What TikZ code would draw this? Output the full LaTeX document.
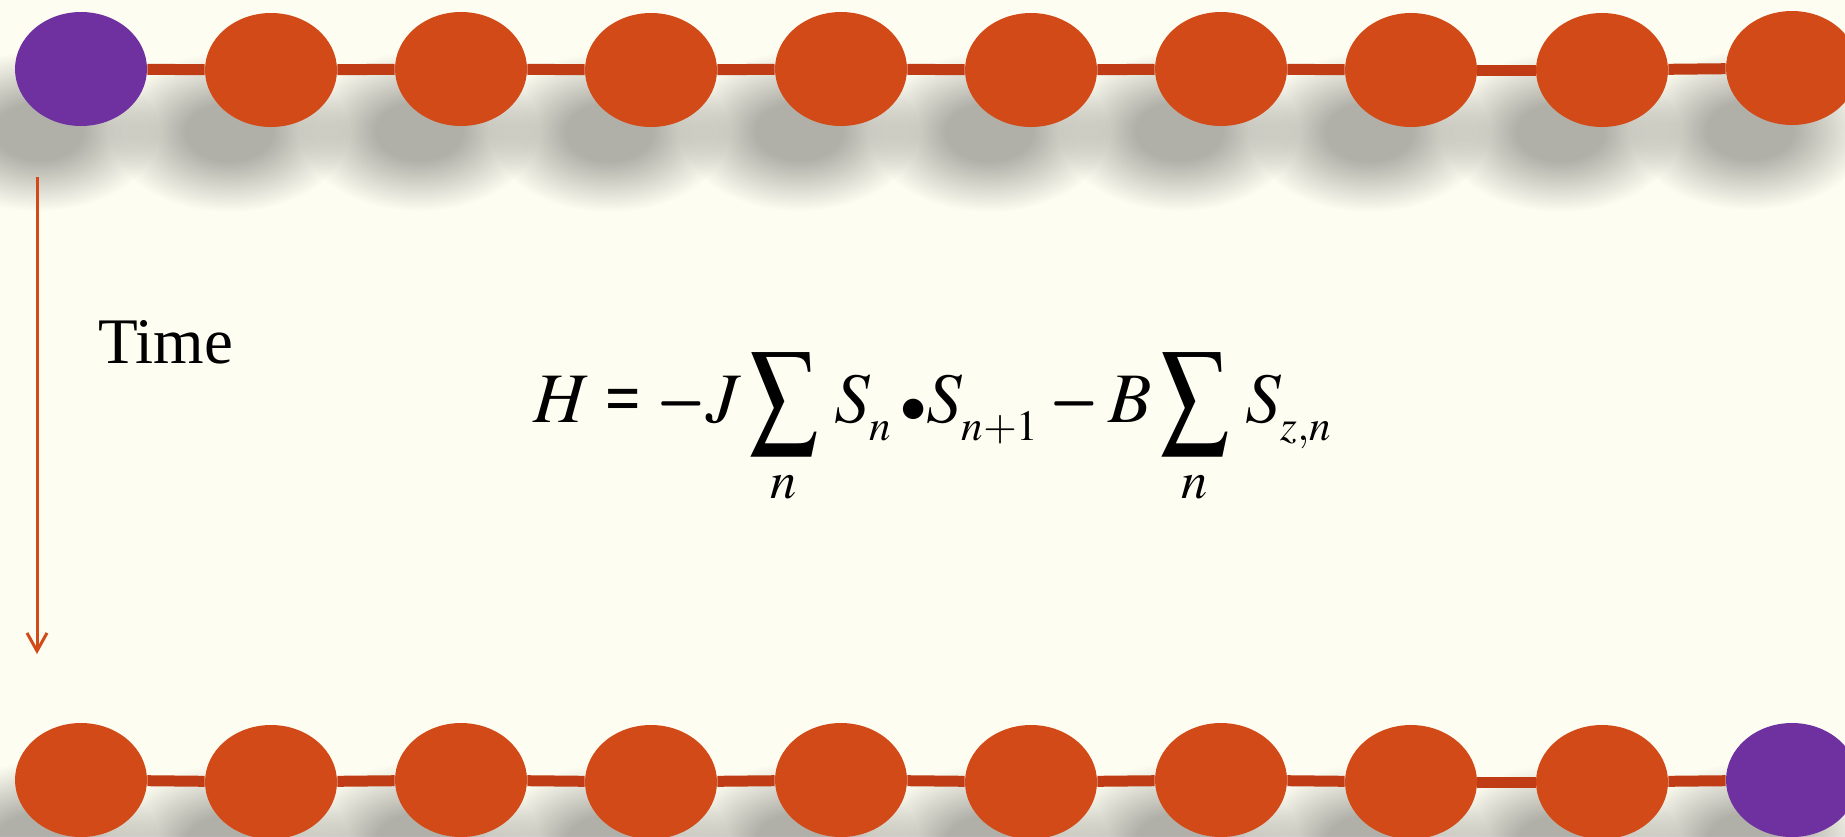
\documentclass[tikz,border=0pt]{standalone}
\usepackage{mathptmx}
\usepackage{graphicx}
\usepackage{fontspec}
\setmainfont{Liberation Serif}
\usetikzlibrary{shapes.geometric,fadings,arrows.meta}

\definecolor{paper}{RGB}{253,253,242}
\definecolor{beadorange}{RGB}{210,74,24}
\definecolor{beadpurple}{RGB}{111,49,160}
\definecolor{chainred}{RGB}{192,60,20}

% soft shadow under each bead
\pgfdeclareradialshading{beadshadowshade}{\pgfpointorigin}{color(0bp)=(white); color(9bp)=(white); color(17bp)=(white!50!black); color(25bp)=(black); color(50bp)=(black)}
\pgfdeclarefading{beadfade}{\pgfuseshading{beadshadowshade}}
\pgfdeclarelayer{background}
\pgfsetlayers{background,main}

\newcommand{\lowsub}[1]{_{\raisebox{-4pt}{\scalebox{0.82}{$\scriptstyle #1$}}}}
\newcommand{\tallsum}{\mathop{\vcenter{\hbox{\scalebox{0.95}[1.17]{$\displaystyle\sum$}}}}\limits}
\newcommand{\boldeq}{\mathrel{\hbox{\bfseries\scalebox{0.88}[1]{=}}}}
\newcommand{\boldminus}{\vcenter{\hbox{\scalebox{0.9}[1.5]{$-$}}}}

\tikzset{
  bead/.style={ellipse, fill=beadorange, minimum width=66pt, minimum height=57pt, inner sep=0pt},
  spinup/.style={bead, fill=beadpurple},
  beadshadow/.style={fill=black, fill opacity=0.3, path fading=beadfade},
  chain/.style={chainred, line width=5.5pt},
  timearrow/.style={beadorange, line width=1.5pt, -{Straight Barb[length=9pt,width=10pt,line width=1.5pt]}}
}

\begin{document}
\begin{tikzpicture}[x=0.5pt, y=-0.5pt]
  \useasboundingbox (0,0) rectangle (1845,836);
  % draw beads of the top chain
  \node[spinup] (top_pt0) at (81,69) {};
  \node[bead] (top_pt1) at (271,70) {};
  \node[bead] (top_pt2) at (461,69) {};
  \node[bead] (top_pt3) at (651,70) {};
  \node[bead] (top_pt4) at (841,69) {};
  \node[bead] (top_pt5) at (1031,70) {};
  \node[bead] (top_pt6) at (1221,69) {};
  \node[bead] (top_pt7) at (1411,70) {};
  \node[bead] (top_pt8) at (1602,70) {};
  \node[bead] (top_pt9) at (1792,68) {};
  \draw[chain] (top_pt0) -- (top_pt1);
  \draw[chain] (top_pt1) -- (top_pt2);
  \draw[chain] (top_pt2) -- (top_pt3);
  \draw[chain] (top_pt3) -- (top_pt4);
  \draw[chain] (top_pt4) -- (top_pt5);
  \draw[chain] (top_pt5) -- (top_pt6);
  \draw[chain] (top_pt6) -- (top_pt7);
  \draw[chain] (top_pt7) -- (top_pt8);
  \draw[chain] (top_pt8) -- (top_pt9);
  % draw beads of the bottom chain
  \node[bead] (bot_pt0) at (81,780) {};
  \node[bead] (bot_pt1) at (271,782) {};
  \node[bead] (bot_pt2) at (461,780) {};
  \node[bead] (bot_pt3) at (651,782) {};
  \node[bead] (bot_pt4) at (841,780) {};
  \node[bead] (bot_pt5) at (1031,782) {};
  \node[bead] (bot_pt6) at (1221,780) {};
  \node[bead] (bot_pt7) at (1411,782) {};
  \node[bead] (bot_pt8) at (1602,782) {};
  \node[spinup] (bot_pt9) at (1792,780) {};
  \draw[chain] (bot_pt0) -- (bot_pt1);
  \draw[chain] (bot_pt1) -- (bot_pt2);
  \draw[chain] (bot_pt2) -- (bot_pt3);
  \draw[chain] (bot_pt3) -- (bot_pt4);
  \draw[chain] (bot_pt4) -- (bot_pt5);
  \draw[chain] (bot_pt5) -- (bot_pt6);
  \draw[chain] (bot_pt6) -- (bot_pt7);
  \draw[chain] (bot_pt7) -- (bot_pt8);
  \draw[chain] (bot_pt8) -- (bot_pt9);
  % paper and shadows behind the chains
  \begin{pgfonlayer}{background}
    \fill[paper] (0,0) rectangle (1845,836);
    \foreach \i in {0,...,9} {
      \fill[beadshadow] ([shift={(-42,62)}]top_pt\i.center) ellipse [x radius=120, y radius=80];
      \fill[beadshadow] ([shift={(-42,62)}]bot_pt\i.center) ellipse [x radius=120, y radius=80];
    }
  \end{pgfonlayer}
  % time axis
  \coordinate (time_start) at (37,177);
  \coordinate (time_end) at (37,654);
  \draw[timearrow] (time_start) -- (time_end);
  \node[anchor=base west, inner sep=0pt, font=\fontsize{32.5}{36}\selectfont] (time_label) at (98,363) {Time};
  % hamiltonian
  \node[anchor=base west, inner sep=0pt, font=\fontsize{35.5}{40}\selectfont] (hamiltonian) at (533,422)
    {$\displaystyle H \boldeq \boldminus J\tallsum_n\,S\lowsub{n}\,{\scriptstyle\bullet}S\lowsub{n+1} \mathbin{\boldminus} B\tallsum_n\,S\lowsub{z,n}$};
\end{tikzpicture}
\end{document}
